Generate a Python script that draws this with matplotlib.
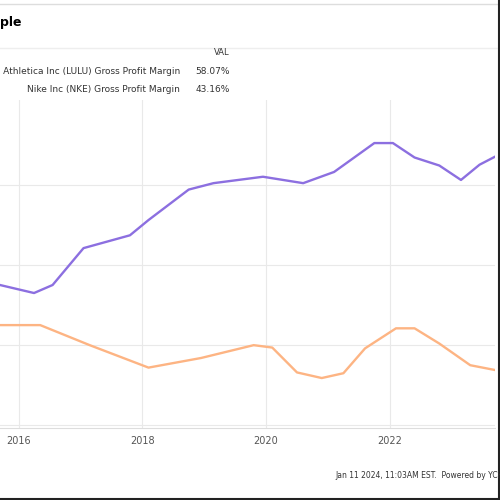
import matplotlib
matplotlib.use("Agg")
import matplotlib.pyplot as plt

# pixel-read traces converted to years / margin %
lulu_years = [2015.7, 2016.25, 2016.55, 2017.05, 2017.8, 2018.1, 2018.75, 2019.15,
              2019.95, 2020.6, 2021.1, 2021.75, 2022.05, 2022.4, 2022.8, 2023.15, 2023.45, 2023.7]
lulu_vals = [51.9, 50.9, 51.9, 56.5, 58.1, 60.0, 63.8, 64.6,
             65.4, 64.6, 66.0, 69.6, 69.6, 67.8, 66.8, 65.0, 66.9, 67.9]
peer_years = [2015.7, 2016.35, 2017.15, 2018.1, 2018.95, 2019.8, 2020.1, 2020.5,
              2020.9, 2021.25, 2021.6, 2022.1, 2022.4, 2022.8, 2023.3, 2023.7]
peer_vals = [46.9, 46.9, 44.4, 41.6, 42.8, 44.4, 44.1, 41.0,
             40.3, 40.9, 44.0, 46.5, 46.5, 44.6, 41.9, 41.3]

xticks = [2016, 2018, 2020, 2022]
legend_names = ["Lululemon Athletica Inc (LULU) Gross Profit Margin", "Nike Inc (NKE) Gross Profit Margin"]
legend_vals = ["58.07%", "43.16%"]

fig = plt.figure(figsize=(5, 5), dpi=100)
ax = fig.add_axes([0.0, 0.144, 0.99, 0.656])
ax.plot(lulu_years, lulu_vals, color="#8c6fe0", lw=1.7)
ax.plot(peer_years, peer_vals, color="#fdb483", lw=1.7)
ax.set_xlim(2015.7, 2023.7)
ax.set_ylim(34.07, 74.97)
ax.set_xticks(xticks)
ax.set_xticklabels([str(t) for t in xticks], fontsize=7, color="#555555")
ax.set_yticks([34.4, 44.4, 54.4, 64.4])
ax.tick_params(axis="y", length=0, labelleft=False)
ax.tick_params(axis="x", length=0, pad=6)
ax.grid(color="#e9e9e9", lw=0.8)
for s in ["top", "right", "left"]:
    ax.spines[s].set_visible(False)
ax.spines["bottom"].set_color("#dddddd")

fig.text(0.0, 0.955, "ple", fontsize=9, fontweight="bold", ha="left", va="center")
fig.add_artist(plt.Line2D([0, 1], [0.993, 0.993], color="#dddddd", lw=1))
fig.add_artist(plt.Line2D([0, 1], [0.905, 0.905], color="#eeeeee", lw=1))
fig.text(0.46, 0.895, "VAL", fontsize=6, ha="right", va="center", color="#333333")
for i, (n, v) in enumerate(zip(legend_names, legend_vals)):
    y = 0.858 - i * 0.036
    fig.text(0.36, y, n, fontsize=6.5, ha="right", va="center", color="#333333")
    fig.text(0.46, y, v, fontsize=6.5, ha="right", va="center", color="#333333")
fig.text(0.67, 0.05, "Jan 11 2024, 11:03AM EST.  Powered by YCHARTS", fontsize=5.5,
         ha="left", va="center", color="#333333")
fig.add_artist(plt.Line2D([0, 1], [0.003, 0.003], color="#222222", lw=1.5))
fig.add_artist(plt.Line2D([0.997, 0.997], [0, 1], color="#222222", lw=1.5))
fig.savefig("out.png", dpi=100)
